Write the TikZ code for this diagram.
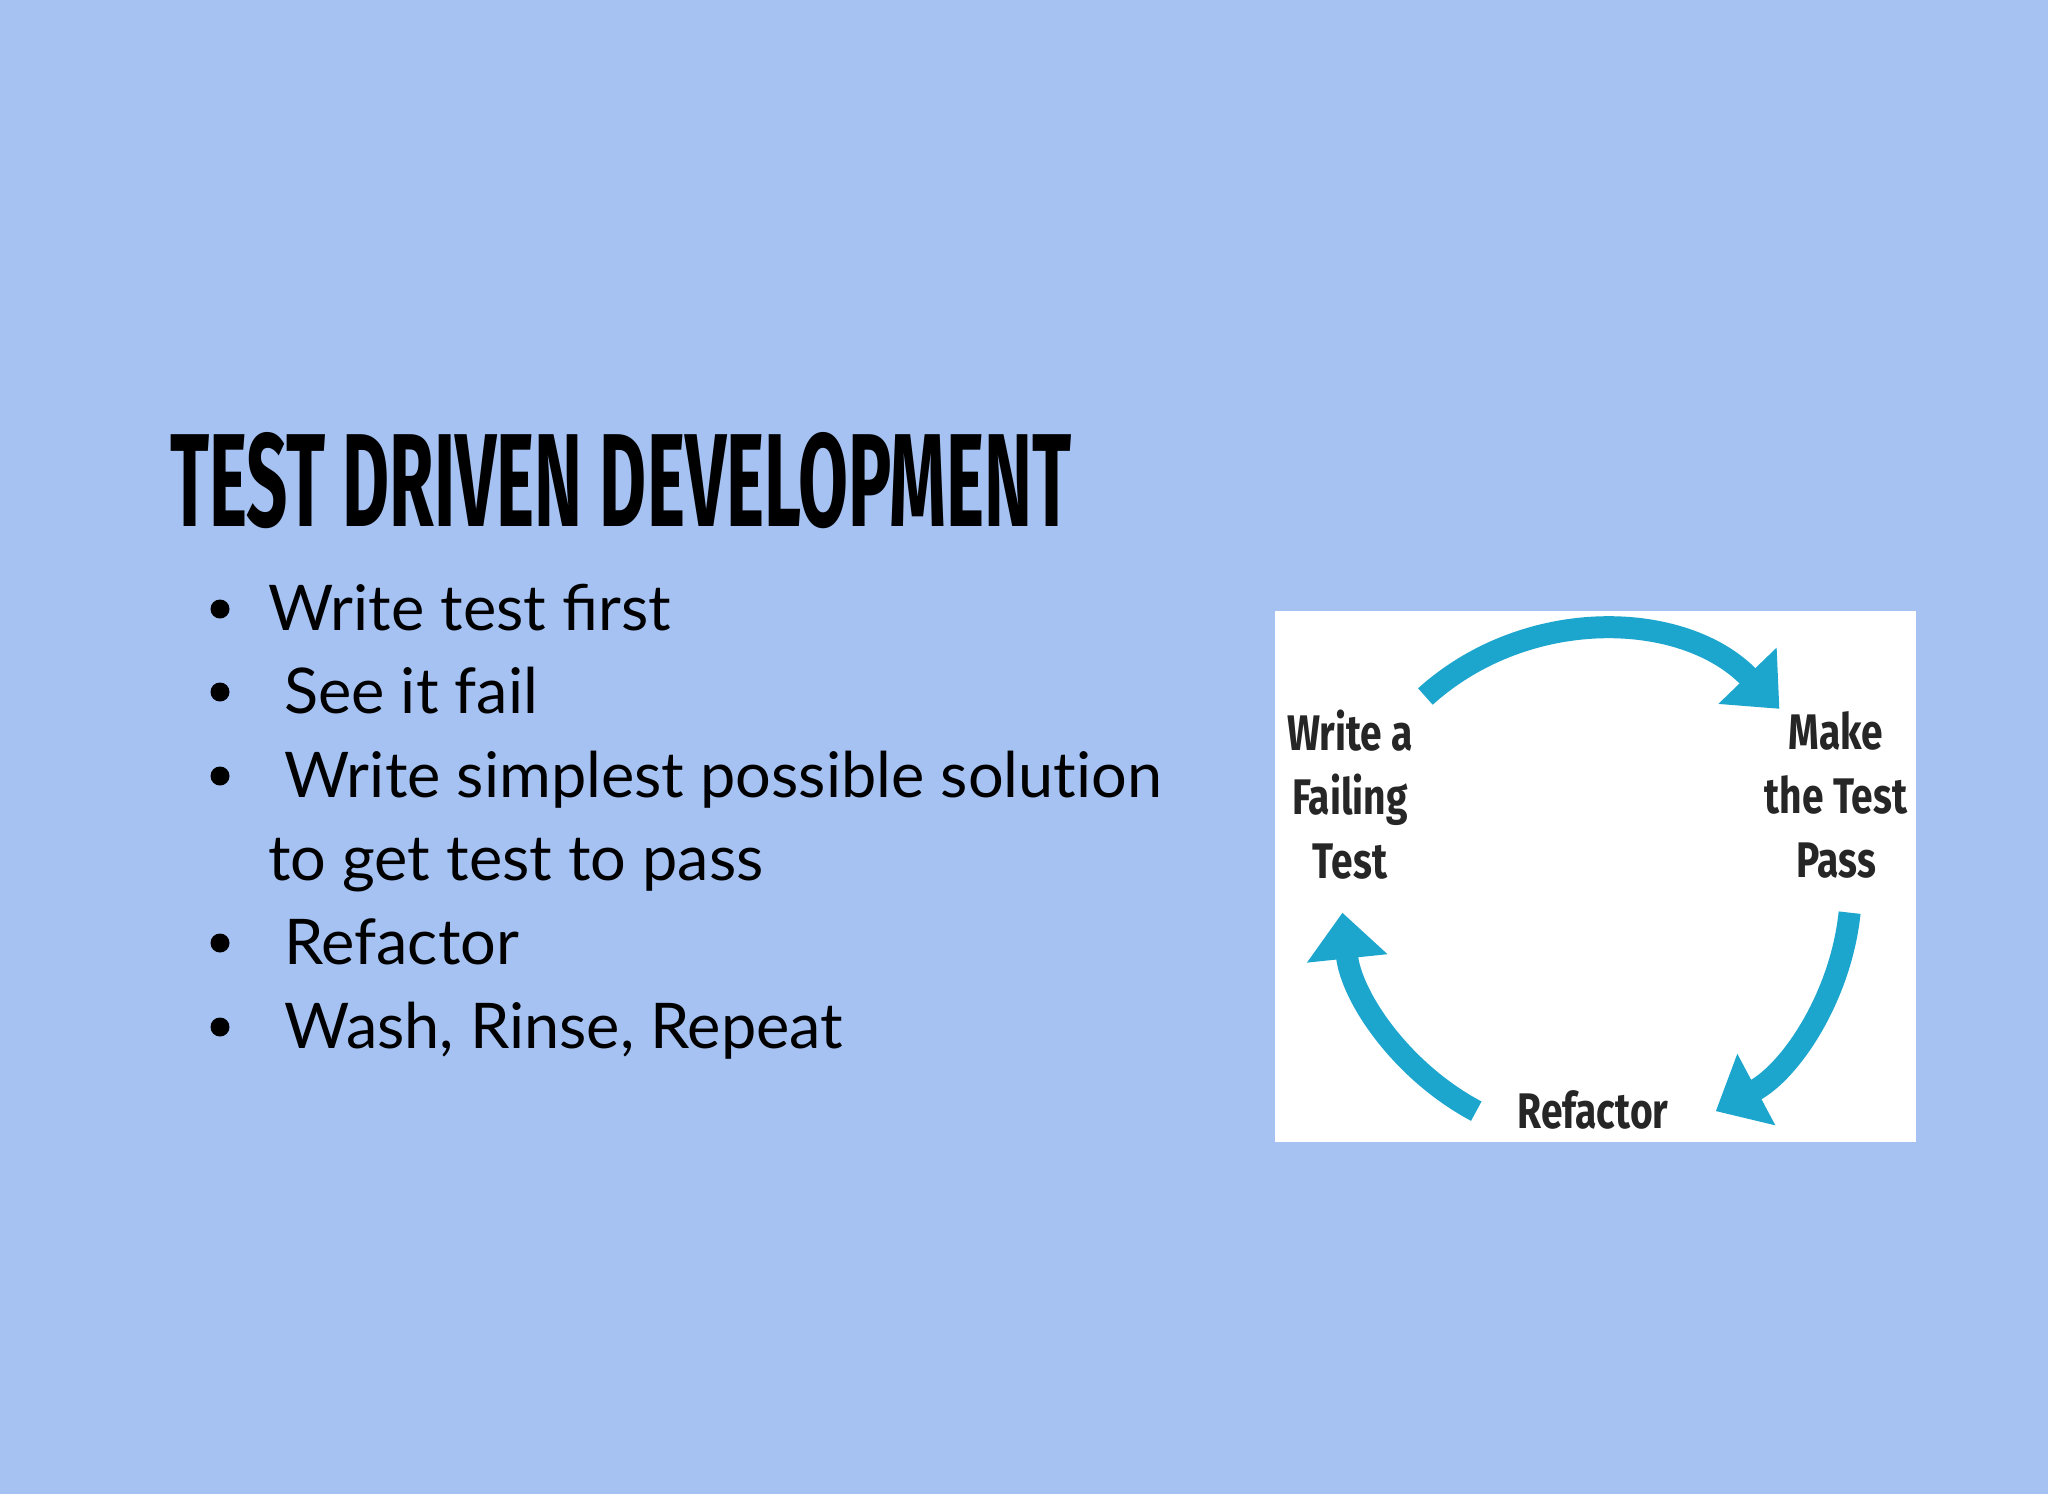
\documentclass[tikz,border=0pt]{standalone}
\usepackage{fontspec}
\setmainfont{Lato}
\newfontfamily\titlefont{Fira Sans}
\usetikzlibrary{arrows.meta}
\definecolor{bg}{HTML}{A5C2F2}
\definecolor{cyc}{HTML}{1CA6CE}
\tikzset{
 bullet/.style={anchor=base west,font=\fontsize{63}{70}\selectfont,inner sep=0},
 dot/.style={circle,fill=black,inner sep=0,minimum size=19pt},
 lbl/.style={align=center,font=\fontsize{50}{64}\selectfont\bfseries\titlefont,text=black!85},
 cyarrow/.style={cyc,line width=22pt,-{Triangle[length=46pt,width=78pt]}}
}
\begin{document}
\begin{tikzpicture}[x=1pt,y=-1pt]
\fill[bg] (0,0) rectangle (2048,1494);
\useasboundingbox (0,0) rectangle (2048,1494);
\node[anchor=south west,inner sep=0] (title) at (170,529) {\resizebox{901pt}{94pt}{\titlefont\bfseries TEST DRIVEN DEVELOPMENT}};
\foreach \y/\t/\n in {630/Write test first/a, 713/{\ See it fail}/b, 797/{\ Write simplest possible solut\kern0pt ion}/c, 964/{\ Refactor}/e, 1048/{\ Wash, Rinse, Repeat}/f}{
  \node[bullet] (t\n) at (268,\y) {\t};
  \node[dot] (d\n) at (220,\y-21) {};
}
\node[bullet] (td) at (268,880) {to get test to pass};
\node[fill=white,anchor=north west,minimum width=641pt,minimum height=531pt,inner sep=0] (img) at (1275,611) {};
\coordinate (c) at (1596,886);
\draw[cyarrow] (c) ++(-132:255) arc[start angle=-132,end angle=-44,radius=255];
\draw[cyarrow] (c) ++(6:255) arc[start angle=6,end angle=62,radius=255];
\draw[cyarrow] (c) ++(118:255) arc[start angle=118,end angle=174,radius=255];
\node[lbl] (w) at (1350,795) {\scalebox{0.78}[1]{Write a}\\\scalebox{0.78}[1]{Failing}\\\scalebox{0.78}[1]{Test}};
\node[lbl] (m) at (1836,795) {\scalebox{0.78}[1]{Make}\\\scalebox{0.78}[1]{the Test}\\\scalebox{0.78}[1]{Pass}};
\node[lbl] (r) at (1593,1110) {\scalebox{0.78}[1]{Refactor}};
\end{tikzpicture}
\end{document}
